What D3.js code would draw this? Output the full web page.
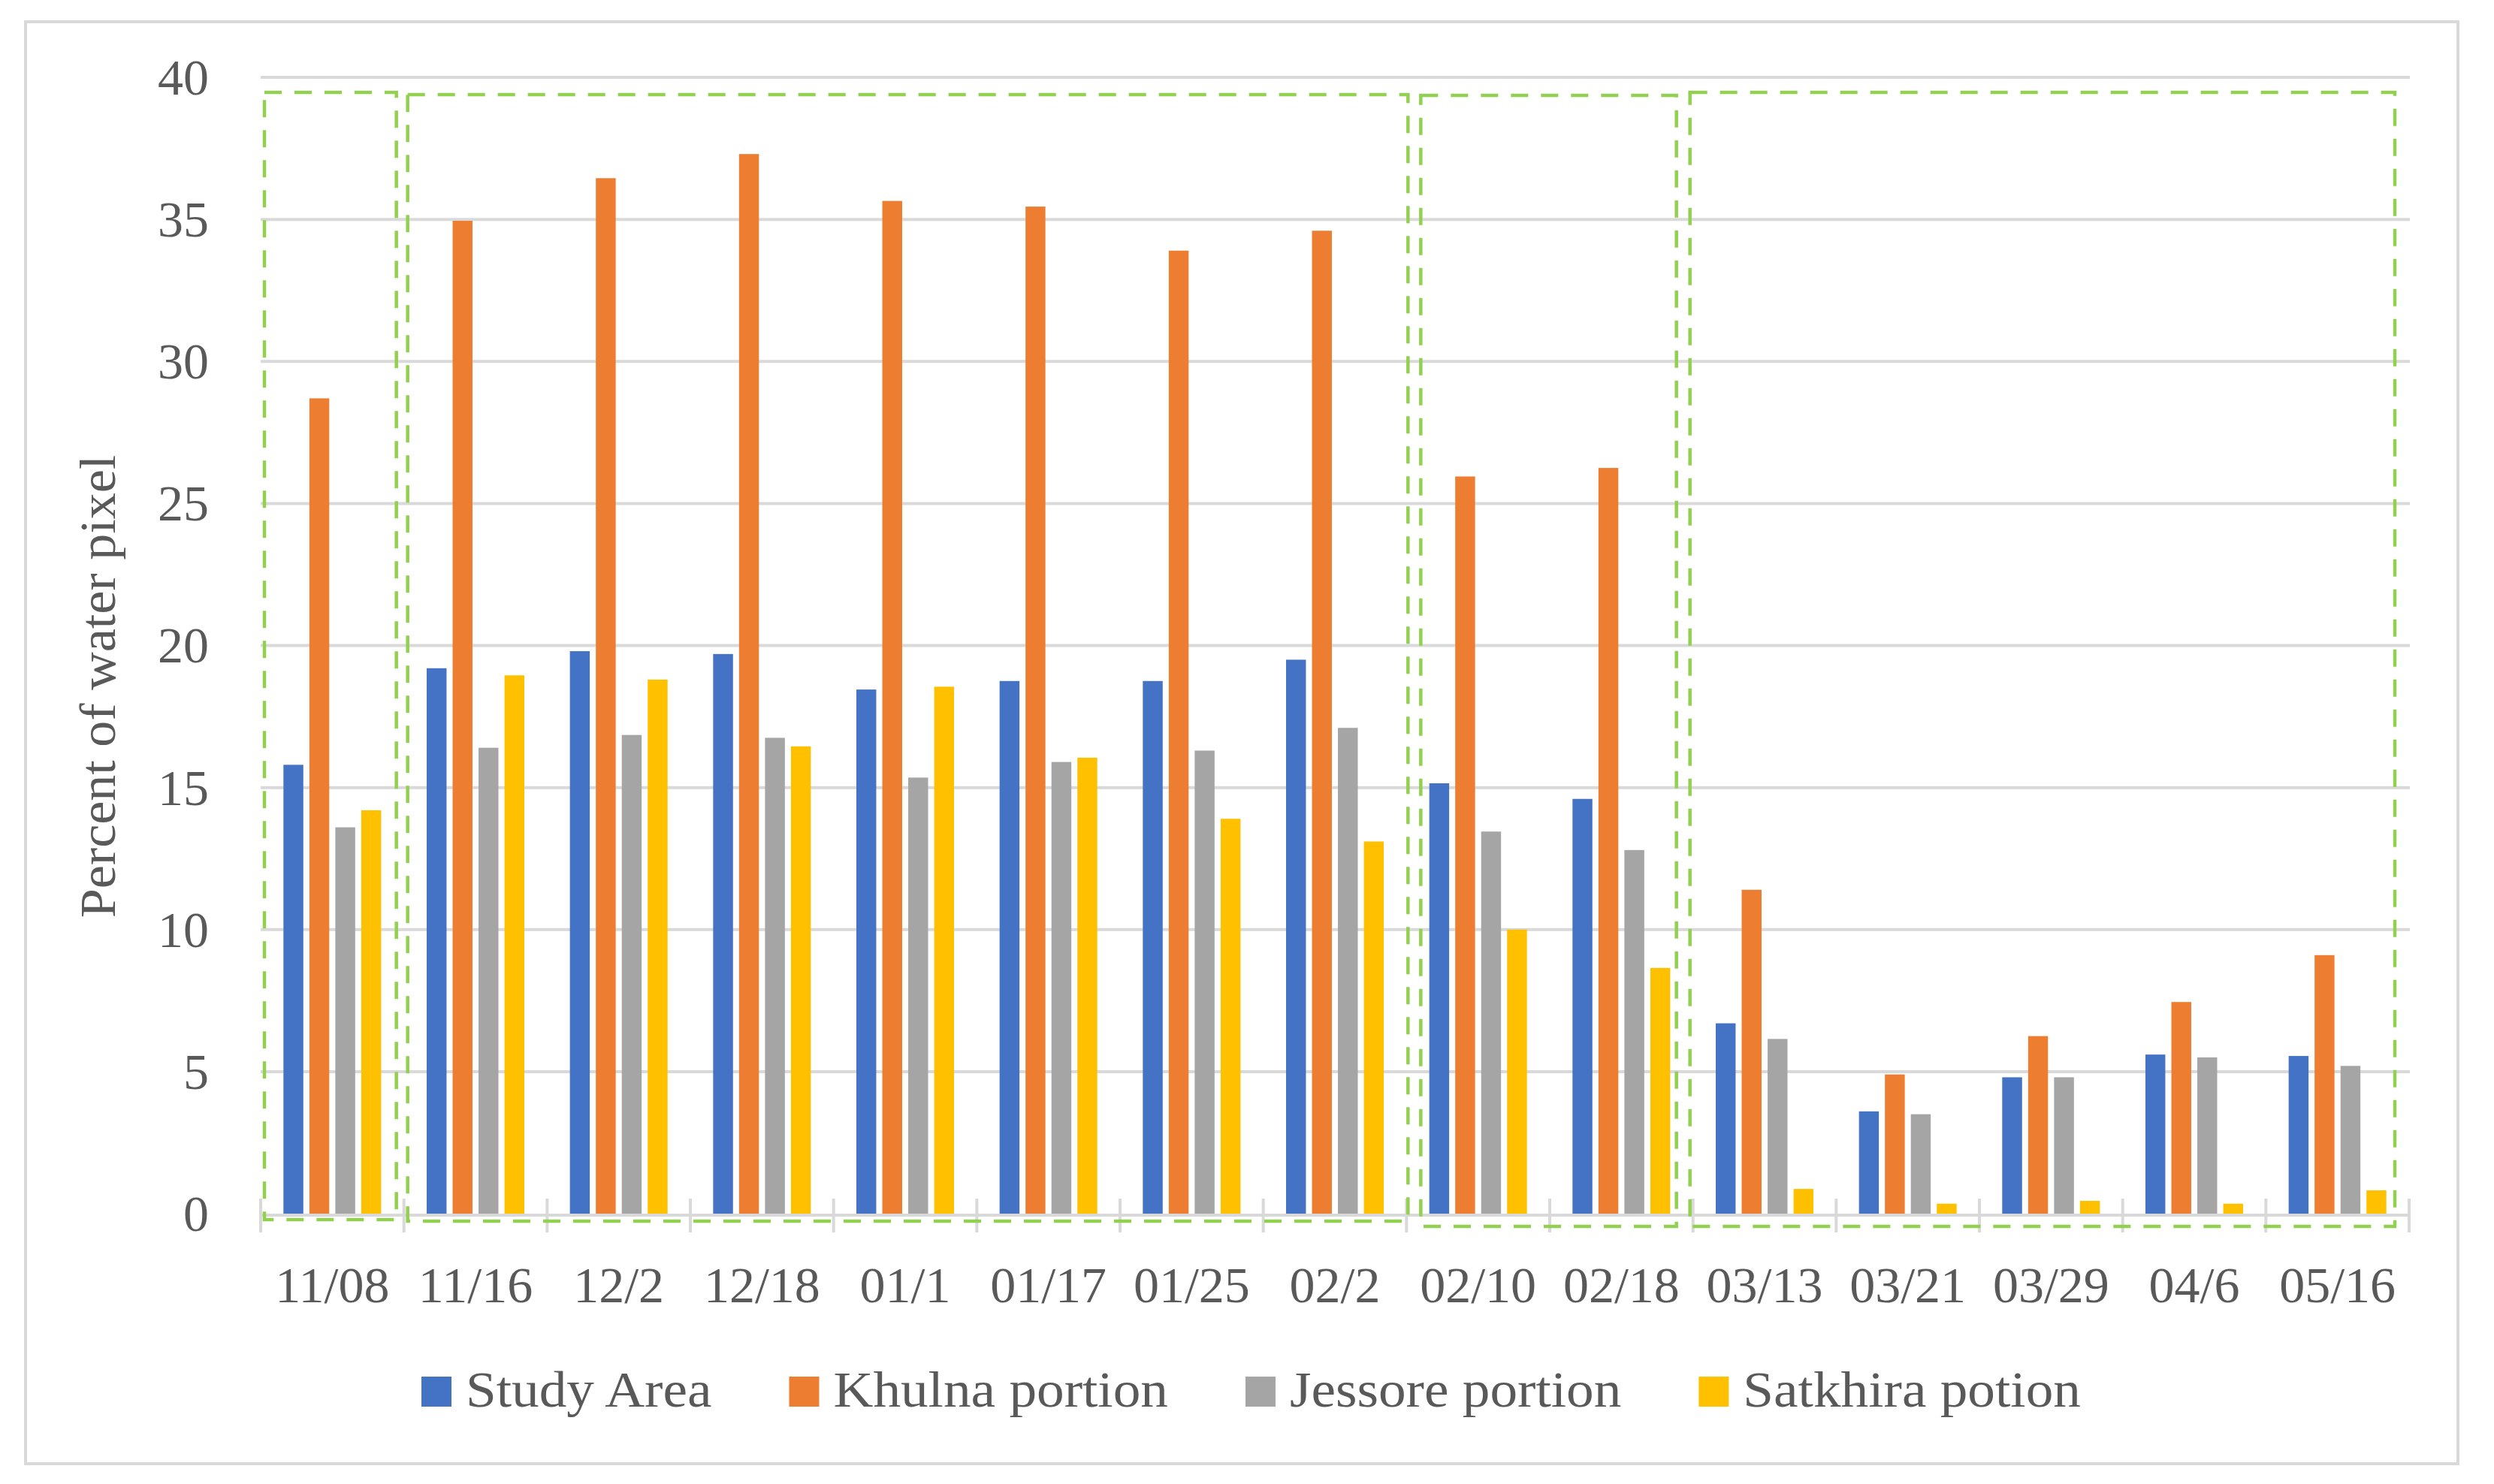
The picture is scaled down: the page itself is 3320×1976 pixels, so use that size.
<!DOCTYPE html>
<html>
<head>
<meta charset="utf-8">
<title>Percent of water pixel</title>
<script src="https://cdn.jsdelivr.net/npm/d3@7"></script>
<style>
    html, body { margin: 0; padding: 0; background: #ffffff; }
    svg { display: block; }
</style>
</head>
<body>
<div id="chartdiv"></div>
<script>
/*global d3 */

////////////////////////////////////////
// data
////////////////////////////////////////

var categories = ["11/08", "11/16", "12/2", "12/18", "01/1", "01/17",
                  "01/25", "02/2", "02/10", "02/18", "03/13", "03/21",
                  "03/29", "04/6", "05/16"];
var seriesNames = ["Study Area", "Khulna portion", "Jessore portion",
                   "Satkhira potion"];
var studyArea = [15.8, 19.2, 19.8, 19.7, 18.45, 18.75, 18.75, 19.5,
                 15.15, 14.6, 6.7, 3.6, 4.8, 5.6, 5.55];
var khulna = [28.7, 34.95, 36.45, 37.3, 35.65, 35.45, 33.9, 34.6,
              25.95, 26.25, 11.4, 4.9, 6.25, 7.45, 9.1];
var jessore = [13.6, 16.4, 16.85, 16.75, 15.35, 15.9, 16.3, 17.1,
               13.45, 12.8, 6.15, 3.5, 4.8, 5.5, 5.2];
var satkhira = [14.2, 18.95, 18.8, 16.45, 18.55, 16.05, 13.9, 13.1,
                10.0, 8.65, 0.87, 0.35, 0.45, 0.35, 0.82];
var yTicks = [0, 5, 10, 15, 20, 25, 30, 35, 40];
var yTitle = "Percent of water pixel";
//dashed annotation boxes, by first and last category they enclose
var boxGroups = [["11/08", "11/08"], ["11/16", "02/2"],
                 ["02/10", "02/18"], ["03/13", "05/16"]];

var chart = (function () {
    "use strict";

    ////////////////////////////////////////
    // closure variables
    ////////////////////////////////////////

    var ds = {w: 3320, h: 1976,
              frame: {x: 34, y: 29, w: 3238, h: 1920},
              plot: {left: 347, right: 3207, top: 103, bottom: 1616},
              colors: ["#4472c4", "#ed7d31", "#a5a5a5", "#ffc000"],
              textcolor: "#595959", linecolor: "#d9d9d9",
              boxcolor: "#92d050",
              font: "'Liberation Serif', 'Times New Roman', serif",
              fontsize: 68,
              widen: 1.077,  //original face runs wider than Times
              //hand drawn boxes don't sit exactly on the category edges
              boxNudge: [{l: 5, r: -10, t: 20, b: 8},
                         {l: 5, r: 2, t: 23, b: 10},
                         {l: 19, r: -22, t: 24, b: 17},
                         {l: -4, r: -19, t: 20, b: 17}]};


    ////////////////////////////////////////
    // helper functions
    ////////////////////////////////////////

    function styleText (sel) {
        sel.attr("font-family", ds.font)
            .attr("font-size", ds.fontsize)
            .attr("fill", ds.textcolor);
    }


    function stretchText (node, factor) {
        var len = node.getComputedTextLength() * factor;
        d3.select(node).attr("textLength", len)
            .attr("lengthAdjust", "spacingAndGlyphs");
        return len;
    }


    function drawFrame () {
        ds.svg.append("rect")
            .attr("x", ds.frame.x).attr("y", ds.frame.y)
            .attr("width", ds.frame.w).attr("height", ds.frame.h)
            .attr("fill", "#ffffff")
            .attr("stroke", ds.linecolor).attr("stroke-width", 4);
    }


    function drawGrid () {
        var p = ds.plot, yax;
        ds.svg.append("g").selectAll("line")
            .data(yTicks.filter(function (t) { return t > 0; }))
            .join("line")
            .attr("x1", p.left).attr("x2", p.right + 1)
            .attr("y1", function (d) { return ds.y(d); })
            .attr("y2", function (d) { return ds.y(d); })
            .attr("stroke", ds.linecolor).attr("stroke-width", 4);
        yax = ds.svg.append("g")
            .attr("transform", "translate(" + p.left + ",0)")
            .call(d3.axisLeft(ds.y).tickValues(yTicks)
                  .tickSize(0).tickPadding(69));
        yax.select(".domain").remove();
        yax.selectAll("text").call(styleText).attr("dy", "0.33em");
    }


    function drawBars () {
        var series = [studyArea, khulna, jessore, satkhira];
        ds.svg.append("g").selectAll("g")
            .data(categories)
            .join("g")
            .attr("transform", function (d) {
                return "translate(" + ds.x0(d) + ",0)"; })
            .selectAll("rect")
            .data(function (d, i) {
                return seriesNames.map(function (s, j) {
                    return {name: s, idx: j, v: series[j][i]}; }); })
            .join("rect")
            .attr("x", function (d) { return ds.x1(d.name); })
            .attr("width", ds.x1.bandwidth())
            .attr("y", function (d) { return ds.y(d.v); })
            .attr("height", function (d) { return ds.y(0) - ds.y(d.v); })
            .attr("fill", function (d) { return ds.colors[d.idx]; });
    }


    function drawXAxis () {
        var p = ds.plot, xax, bounds;
        ds.svg.append("line")
            .attr("x1", p.left).attr("x2", p.right + 2)
            .attr("y1", ds.y(0) + 2).attr("y2", ds.y(0) + 2)
            .attr("stroke", ds.linecolor).attr("stroke-width", 4);
        //crossing tick marks on the category edges
        bounds = categories.map(function (c) { return ds.x0(c); });
        bounds.push(p.right);
        ds.svg.append("g").selectAll("line")
            .data(bounds)
            .join("line")
            .attr("x1", function (d) { return d; })
            .attr("x2", function (d) { return d; })
            .attr("y1", ds.y(0) - 20).attr("y2", ds.y(0) + 25)
            .attr("stroke", ds.linecolor).attr("stroke-width", 4);
        xax = ds.svg.append("g")
            .attr("transform", "translate(0," + ds.y(0) + ")")
            .call(d3.axisBottom(ds.x0).tickSize(0).tickPadding(70));
        xax.select(".domain").remove();
        xax.selectAll("text").call(styleText);
    }


    function drawBoxes () {
        ds.svg.append("g").selectAll("rect")
            .data(boxGroups)
            .join("rect")
            .attr("x", function (d, i) {
                return ds.x0(d[0]) + ds.boxNudge[i].l; })
            .attr("y", function (d, i) {
                return ds.y(40) + ds.boxNudge[i].t; })
            .attr("width", function (d, i) {
                return ds.x0(d[1]) + ds.x0.bandwidth() + ds.boxNudge[i].r -
                    (ds.x0(d[0]) + ds.boxNudge[i].l); })
            .attr("height", function (d, i) {
                return (ds.y(0) + ds.boxNudge[i].b) -
                    (ds.y(40) + ds.boxNudge[i].t); })
            .attr("fill", "none")
            .attr("stroke", ds.boxcolor).attr("stroke-width", 4.5)
            .attr("stroke-dasharray", "23 17");
    }


    function drawYTitle () {
        var t = ds.svg.append("text")
            .attr("transform", "translate(153,914) rotate(-90)")
            .attr("text-anchor", "middle")
            .call(styleText)
            .text(yTitle);
        stretchText(t.node(), 1.03);
    }


    function drawLegend () {
        var g = ds.svg.append("g"), items, xpos = 0, total, boxw = 40,
            textoff = 59, itemgap = 103, basey = 1873;
        items = g.selectAll("g")
            .data(seriesNames)
            .join("g");
        items.append("rect")
            .attr("y", basey - boxw).attr("width", boxw).attr("height", boxw)
            .attr("fill", function (d, i) { return ds.colors[i]; });
        items.append("text")
            .attr("x", textoff).attr("y", basey)
            .call(styleText)
            .text(function (d) { return d; });
        items.each(function () {
            var item = d3.select(this),
                tw = stretchText(item.select("text").node(), ds.widen);
            item.attr("transform", "translate(" + xpos + ",0)");
            xpos += textoff + tw + itemgap; });
        total = xpos - itemgap;
        g.attr("transform", "translate(" + Math.round(1665 - total / 2) +
               ",0)");
    }


    ////////////////////////////////////////
    // public functions
    ////////////////////////////////////////
return {

    run: function () {
        var p = ds.plot, bw;
        ds.svg = d3.select("#chartdiv").append("svg")
            .attr("width", ds.w).attr("height", ds.h)
            .attr("viewBox", "0 0 " + ds.w + " " + ds.h);
        ds.x0 = d3.scaleBand().domain(categories)
            .range([p.left, p.right]).padding(0);
        bw = ds.x0.bandwidth();
        ds.x1 = d3.scaleBand().domain(seriesNames)
            .range([bw * 0.159, bw * 0.841]).paddingInner(0.234);
        ds.y = d3.scaleLinear().domain([0, 40]).range([p.bottom, p.top]);
        drawFrame();
        drawGrid();
        drawBars();
        drawXAxis();
        drawBoxes();
        drawYTitle();
        drawLegend();
    }

};  //end of returned functions
}());

chart.run();
</script>
</body>
</html>
